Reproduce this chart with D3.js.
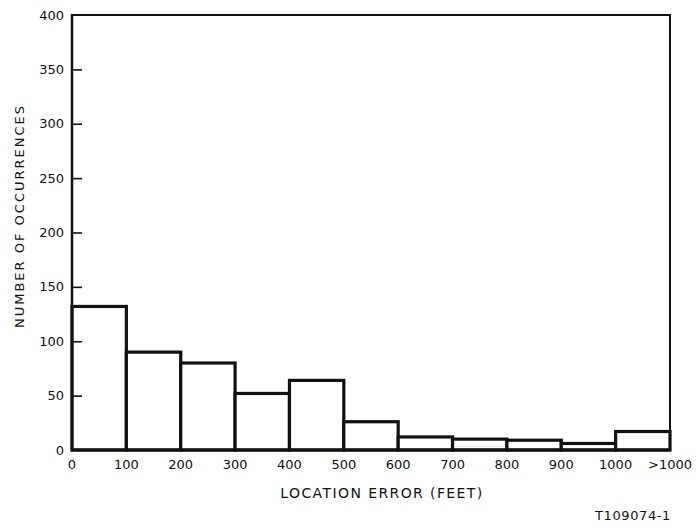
<!DOCTYPE html>
<html>
<head>
<meta charset="utf-8">
<script src="https://cdn.jsdelivr.net/npm/d3@7"></script>
<style>
  html, body { margin: 0; padding: 0; background: #fff; }
  svg text { font-family: "DejaVu Sans", sans-serif; fill: #111; }
</style>
</head>
<body>
<svg id="chart" width="696" height="532"></svg>
<script>
// Location error histogram: occurrences per 100-ft bin
const binEdgeLabels = ["0", "100", "200", "300", "400", "500", "600", "700", "800", "900", "1000", ">1000"];
const occurrences = [132, 90, 80, 52, 64, 26, 12, 10, 9, 6, 17];
const yTickValues = [0, 50, 100, 150, 200, 250, 300, 350, 400];

const svg = d3.select("#chart");
const margin = { left: 72, right: 26, top: 15, bottom: 82 };
const W = 696, H = 532;

const x = d3.scaleLinear()
  .domain([0, occurrences.length])
  .range([margin.left, W - margin.right]);
const y = d3.scaleLinear()
  .domain([0, 400])
  .range([H - margin.bottom, margin.top]);

// frame: top and right borders
svg.append("path")
  .attr("d", `M${x(0)},${y(400)}H${x(occurrences.length)}V${y(0)}`)
  .attr("fill", "none")
  .attr("stroke", "#111")
  .attr("stroke-width", 2);

// bars
svg.append("g")
  .selectAll("rect")
  .data(occurrences)
  .join("rect")
  .attr("x", (d, i) => x(i))
  .attr("width", (d, i) => x(i + 1) - x(i))
  .attr("y", d => y(d))
  .attr("height", d => y(0) - y(d))
  .attr("fill", "#fff")
  .attr("stroke", "#111")
  .attr("stroke-width", 3.2);

// left axis with inward ticks
const yAxis = d3.axisRight(y)
  .tickValues(yTickValues)
  .tickSize(10)
  .tickFormat("");
const gy = svg.append("g")
  .attr("transform", `translate(${x(0)},0)`)
  .call(yAxis);
gy.select(".domain").remove();
gy.selectAll(".tick line").attr("stroke", "#111").attr("stroke-width", 1.6);
gy.selectAll(".tick").filter(d => d === 0 || d === 400).remove();

svg.append("line")
  .attr("x1", x(0)).attr("x2", x(0))
  .attr("y1", y(400) - 1).attr("y2", y(0) + 1.5)
  .attr("stroke", "#111").attr("stroke-width", 2.5);
svg.append("line")
  .attr("x1", x(0)).attr("x2", x(occurrences.length))
  .attr("y1", y(0)).attr("y2", y(0))
  .attr("stroke", "#111").attr("stroke-width", 3);

// y tick labels
svg.append("g")
  .selectAll("text")
  .data(yTickValues)
  .join("text")
  .attr("x", x(0) - 8)
  .attr("y", d => y(d))
  .attr("dy", "0.35em")
  .attr("text-anchor", "end")
  .attr("font-size", 13)
  .text(d => d);

// x tick labels at bin edges
svg.append("g")
  .selectAll("text")
  .data(binEdgeLabels)
  .join("text")
  .attr("x", (d, i) => x(i))
  .attr("y", y(0) + 19)
  .attr("text-anchor", "middle")
  .attr("font-size", 13)
  .text(d => d);

// axis titles
svg.append("text")
  .attr("transform", `translate(24,216) rotate(-90)`)
  .attr("text-anchor", "middle")
  .attr("font-size", 13)
  .attr("letter-spacing", 2)
  .text("NUMBER OF OCCURRENCES");

svg.append("text")
  .attr("x", 382)
  .attr("y", 498)
  .attr("text-anchor", "middle")
  .attr("font-size", 14)
  .attr("letter-spacing", 1.4)
  .text("LOCATION ERROR (FEET)");

svg.append("text")
  .attr("x", 671)
  .attr("y", 520)
  .attr("text-anchor", "end")
  .attr("font-size", 13)
  .attr("letter-spacing", 0.6)
  .text("T109074-1");
</script>
</body>
</html>
